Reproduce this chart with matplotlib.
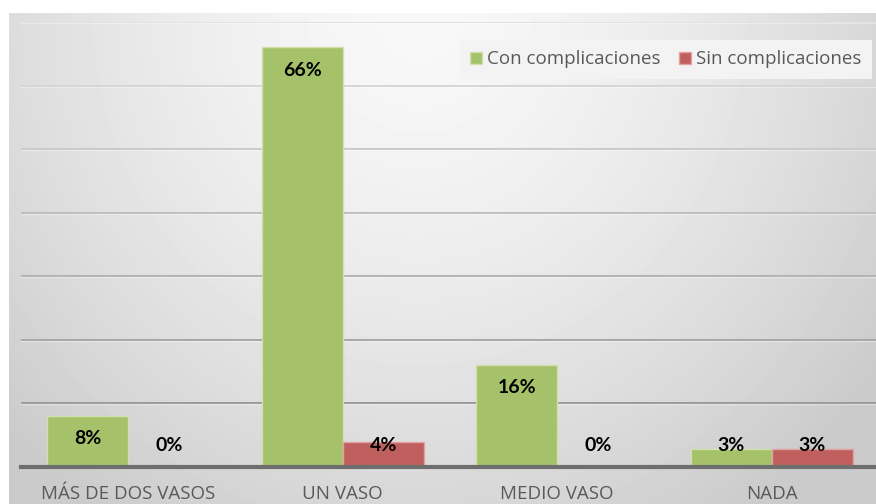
import numpy as np
import matplotlib.pyplot as plt

categories = ["MÁS DE DOS VASOS", "UN VASO", "MEDIO VASO", "NADA"]
con_compl = [8, 66, 16, 2.7]
sin_compl = [0, 3.9, 0, 2.7]
series_names = ["Con complicaciones", "Sin complicaciones"]

green = "#a5c26b"
red = "#c0605e"
text_gray = "#595959"

plt.rcParams["font.family"] = ["Open Sans", "DejaVu Sans"]

fig = plt.figure(figsize=(8.76, 5.04), dpi=100)

# background gradient panel (light near the top centre, grey towards the corners)
bg = fig.add_axes([9 / 876, 0, 1 - 9 / 876, 1 - 13 / 504], zorder=-10)
h, w = 491, 867
yy, xx = np.mgrid[0:h, 0:w]
r = np.sqrt(((xx - 410) / 520.0) ** 2 + (yy / 560.0) ** 2)
val = np.clip(248 - 40 * r ** 1.5, 203, 250) / 255.0
bg.imshow(val, cmap="gray", vmin=0, vmax=1, aspect="auto", interpolation="bilinear")
bg.axis("off")

ax = fig.add_axes([21 / 876, 1 - 466.5 / 504, 858 / 876, 444.5 / 504])
ax.patch.set_visible(False)

x = np.arange(len(categories))
width = 0.378
b1 = ax.bar(x - width / 2, con_compl, width, color=green, edgecolor="#cfe0ad",
            linewidth=1.0, label=series_names[0], zorder=3)
b2 = ax.bar(x + width / 2, sin_compl, width, color=red, edgecolor="#e0a3a1",
            linewidth=1.0, label=series_names[1], zorder=3)

# data labels: inside end, but not below a minimum height above the base
px = 70 / 444.5
for bars, vals in [(b1, con_compl), (b2, sin_compl)]:
    for rect, v in zip(bars, vals):
        y = max(v - 23 * px, 21 * px)
        ax.text(rect.get_x() + rect.get_width() / 2, y, f"{v:.0f}%",
                ha="center", va="center", fontsize=14, fontweight="bold",
                family=["Lato", "DejaVu Sans"], color="black", zorder=5)

ax.set_xlim(-0.5, len(categories) - 0.5)
ax.set_ylim(0, 70)

# gridlines fade towards the top
for g in range(10, 71, 10):
    shade = 0.60 + 0.28 * (g - 10) / 60
    ax.axhline(g, color=(shade, shade, shade), linewidth=1.4, zorder=1)
    ax.axhline(g - 0.2, color="white", alpha=0.35, linewidth=1.0, zorder=1)

ax.set_yticks([])
ax.tick_params(axis="x", bottom=False, pad=10)
ax.set_xticks(x)
ax.set_xticklabels(categories, fontsize=13.5, color=text_gray)
for s in ["top", "right", "left"]:
    ax.spines[s].set_visible(False)
ax.spines["bottom"].set_color("#6e6e6e")
ax.spines["bottom"].set_linewidth(3)
ax.spines["bottom"].set_zorder(4)

leg = ax.legend(loc="upper right", bbox_to_anchor=(872 / 858 - 21 / 858, 1 - 18 / 444.5),
                ncol=2, frameon=True, fontsize=13.5, handlelength=0.6, handleheight=0.6,
                handletextpad=0.3, columnspacing=1.0, borderpad=0.55, borderaxespad=0,
                fancybox=False)
leg.get_frame().set_facecolor("#f3f3f3")
leg.get_frame().set_edgecolor("none")
leg.get_frame().set_alpha(1)
for t in leg.get_texts():
    t.set_color(text_gray)

plt.savefig("out.png", dpi=100)
plt.close()
